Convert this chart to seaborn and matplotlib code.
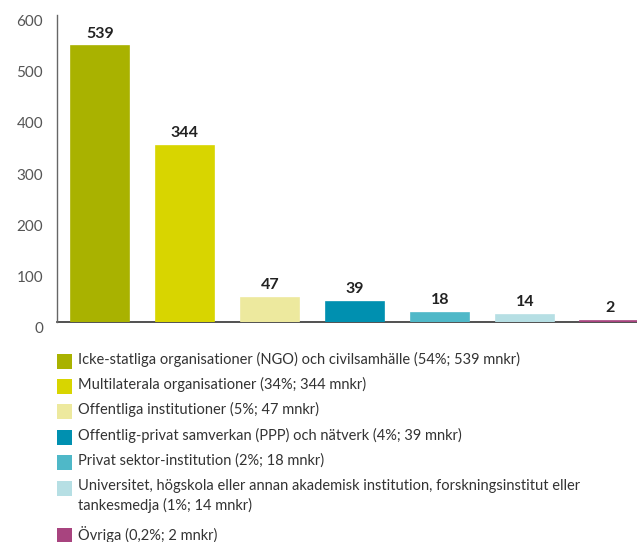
import matplotlib
matplotlib.use("Agg")
import matplotlib.pyplot as plt
from matplotlib.patches import Rectangle
import pandas as pd
import seaborn as sns

categories = ["NGO", "Multilaterala", "Offentliga", "PPP", "Privat", "Universitet", "Övriga"]
values = [539, 344, 47, 39, 18, 14, 2]
colors = ["#A9B200", "#D8D500", "#EDE99E", "#0090B0", "#4FB8C8", "#B6DFE4", "#A8447F"]
legend_labels = [
    "Icke-statliga organisationer (NGO) och civilsamhälle (54%; 539 mnkr)",
    "Multilaterala organisationer (34%; 344 mnkr)",
    "Offentliga institutioner (5%; 47 mnkr)",
    "Offentlig-privat samverkan (PPP) och nätverk (4%; 39 mnkr)",
    "Privat sektor-institution (2%; 18 mnkr)",
    "Universitet, högskola eller annan akademisk institution, forskningsinstitut eller\ntankesmedja (1%; 14 mnkr)",
    "Övriga (0,2%; 2 mnkr)",
]
yticks = [0, 100, 200, 300, 400, 500, 600]

sns.set_style("white")
plt.rcParams["font.family"] = ["Lato", "DejaVu Sans"]

df = pd.DataFrame({"cat": categories, "val": values})

fig = plt.figure(figsize=(6.37, 5.42), dpi=100)
ax = fig.add_axes([57 / 637, 1 - 322 / 542, 1 - 57 / 637, 307 / 542])
sns.barplot(data=df, x="cat", y="val", hue="cat", palette=colors, width=0.69,
            legend=False, ax=ax, saturation=1, zorder=3, linewidth=0)

# outline each bar in its own colour so the tiny "2" bar stays visible over the axis line
for patch in ax.patches:
    patch.set_edgecolor(patch.get_facecolor())
    patch.set_linewidth(1.2)

for cont in ax.containers:
    ax.bar_label(cont, fontsize=11.5, fontweight="bold", color="#222222", padding=4)

ax.set_xlim(-0.506, 6.32)
ax.set_ylim(0, 600)
ax.set_yticks(yticks)
ax.tick_params(axis="y", length=0, labelsize=11, labelcolor="#555555", pad=10)
ax.set_yticklabels([str(t) for t in yticks], va="top")
ax.set_xticks([])
ax.set_xlabel("")
ax.set_ylabel("")
sns.despine(ax=ax, top=True, right=True)
ax.spines["left"].set_color("#666666")
ax.spines["bottom"].set_color("#333333")
ax.spines["left"].set_linewidth(1)
ax.spines["bottom"].set_linewidth(1.2)
ax.spines["bottom"].set_zorder(1)

# legend drawn by hand so the square lines up with the first text line
row_y = [361, 386, 411, 437, 462, 488, 535]
for color, label, y in zip(colors, legend_labels, row_y):
    fig.add_artist(Rectangle((57 / 637, 1 - (y + 8) / 542), 15 / 637, 15 / 542,
                             transform=fig.transFigure, facecolor=color, edgecolor="none"))
    fig.text(78 / 637, 1 - (y - 9) / 542, label, fontsize=10.5, color="#333333",
             va="top", ha="left", linespacing=1.45)

fig.savefig("out.png", dpi=100)
